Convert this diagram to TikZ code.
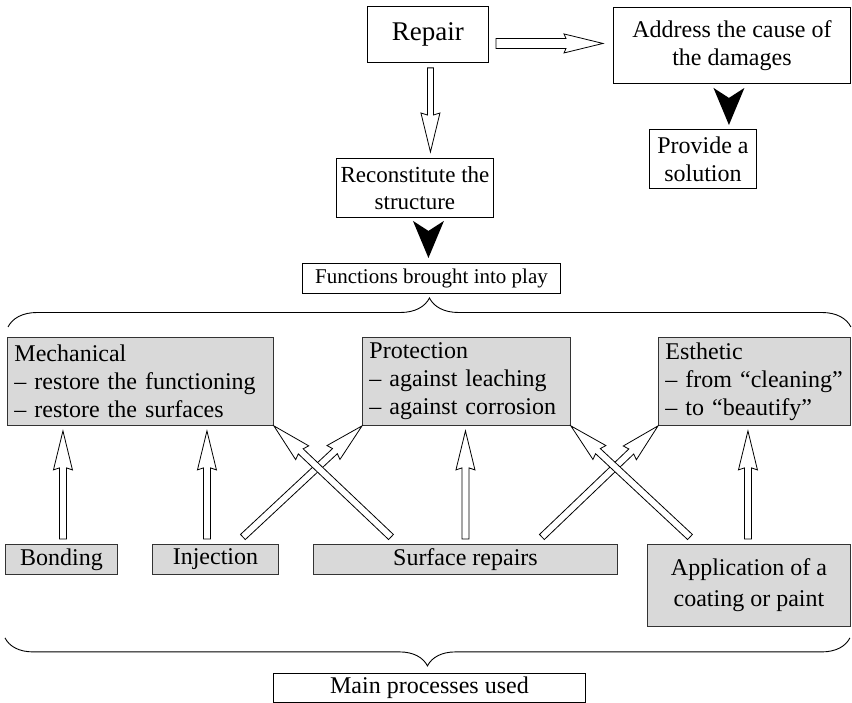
\documentclass[tikz,border=0pt]{standalone}
\usepackage{fontspec}
\setmainfont{Liberation Serif}
\usetikzlibrary{calc,decorations.pathreplacing,shadows}

\tikzset{
  box/.style={draw, line width=0.9pt, inner sep=0pt, anchor=north west, align=center,
    font=\fontsize{24}{28}\selectfont},
  gbox/.style={box, fill=black!15, draw=black!80,
    drop shadow={shadow xshift=1pt, shadow yshift=-1pt, fill=black!70, opacity=1}},
  lbox/.style={gbox, align=left, inner xsep=7pt},
  openarr/.style={draw, line width=0.8pt, fill=white, line join=miter},
  bracel/.style={decorate, line width=0.9pt, decoration={brace, amplitude=#1}},
}

\newcommand\openarrow[4]{%
  \coordinate (oa-s) at #1;
  \coordinate (oa-t) at #2;
  \coordinate (oa-h) at ($(oa-t)!39pt!(oa-s)$);
  \coordinate (oa-b) at ($(oa-t)!37pt!(oa-s)$);
  \draw[openarr] ($(oa-s)!#3!90:(oa-t)$) -- ($(oa-b)!#3!90:(oa-t)$) -- ($(oa-h)!#4!90:(oa-t)$)
    -- (oa-t) -- ($(oa-h)!#4!-90:(oa-t)$) -- ($(oa-b)!#3!-90:(oa-t)$) -- ($(oa-s)!#3!-90:(oa-t)$) -- cycle;}

\newcommand\blackarrow[2]{%
  \coordinate (ba-s) at #1;
  \coordinate (ba-t) at #2;
  \fill ($(ba-s)!15.5pt!90:(ba-t)$) -- (ba-t) -- ($(ba-s)!15.5pt!-90:(ba-t)$) -- ($(ba-s)!10pt!(ba-t)$) -- cycle;}

\begin{document}
\begin{tikzpicture}[x=1pt, y=-1pt]
\useasboundingbox (0,0) rectangle (852,703);

% top boxes
\node[box, minimum width=121pt, minimum height=56pt, font=\fontsize{27}{31}\selectfont] (repair) at (367,6) {Repair};
\node[box, minimum width=237pt, minimum height=76pt] (addr) at (613,7) {Address the cause of\\the damages};
\node[box, minimum width=107pt, minimum height=59pt] (prov) at (649,129) {Provide a\\solution};
\node[box, minimum width=157pt, minimum height=59pt, font=\fontsize{23}{27}\selectfont] (recon) at (336,158) {Reconstitute the\\structure};
\node[box, minimum width=258pt, minimum height=30pt, font=\fontsize{21}{25}\selectfont] (func) at (302,263) {Functions brought into play};

% function boxes
\node[lbox, text width=252pt, minimum height=88pt] (mech) at (7,337) {Mechanical\\– restore the functioning\\– restore the surfaces};
\node[lbox, text width=194pt, minimum height=88pt] (prot) at (362,337) {Protection\\– against leaching\\– against corrosion};
\node[lbox, text width=178pt, minimum height=88pt] (esth) at (658,337) {Esthetic\\– from “cleaning”\\– to “beautify”};

% process boxes
\node[gbox, minimum width=112pt, minimum height=30pt] (bond) at (5,544) {Bonding};
\node[gbox, minimum width=126pt, minimum height=30pt] (inj) at (152,544) {Injection};
\node[gbox, minimum width=304pt, minimum height=30pt] (surf) at (313,544) {Surface repairs};
\node[gbox, minimum width=203pt, minimum height=82pt, font=\fontsize{24}{31}\selectfont] (app) at (647,544) {Application of a\\coating or paint};

\node[box, minimum width=312pt, minimum height=29pt] (mainp) at (273,673) {Main processes used};

% top open arrows
\openarrow{($(repair.east)+(7,9)$)}{($(repair.east -| addr.west)+(-10,9)$)}{5pt}{9.5pt}
\openarrow{($(repair.south)+(2.5,5)$)}{($(repair.south |- recon.north)+(2.5,-6)$)}{3pt}{9.5pt}

% black arrows
\blackarrow{($(addr.south)+(-3,4)$)}{($(addr.south |- prov.north)+(-3,-4)$)}
\blackarrow{($(recon.south -| func.north)+(-3,3)$)}{($(func.north)+(-3,-5)$)}

% braces
\draw[bracel=29pt] ($(mech.north west)+(1,-10)$) -- ($(esth.north east)+(0,-10)$);
\draw[bracel=28pt] ($(app.south east)+(-1,11)$) -- ($(bond.south west)+(0,63)$);

% vertical arrows
\openarrow{($(bond.north)+(1.5,-5)$)}{($(bond.north |- mech.south)+(1.5,5)$)}{3.5pt}{9.5pt}
\openarrow{($(inj.north)+(-8.5,-5)$)}{($(inj.north |- mech.south)+(-8.5,5)$)}{3.5pt}{9.5pt}
\openarrow{($(surf.north)+(0,-5)$)}{($(surf.north |- prot.south)+(0,5)$)}{3.5pt}{9.5pt}
\openarrow{($(app.north)+(-1,-5)$)}{($(app.north |- esth.south)+(-1,5)$)}{3.5pt}{9.5pt}

% diagonal arrows
\openarrow{($(inj.north east)+(-36,-7)$)}{(prot.south west)}{3.5pt}{9.5pt}
\openarrow{($(surf.north west)+(78,-7)$)}{(mech.south east)}{3.5pt}{9.5pt}
\openarrow{($(surf.north east)+(-76,-7)$)}{(esth.south west)}{3.5pt}{9.5pt}
\openarrow{($(app.north west)+(43,-7)$)}{(prot.south east)}{3.5pt}{9.5pt}

\end{tikzpicture}
\end{document}
